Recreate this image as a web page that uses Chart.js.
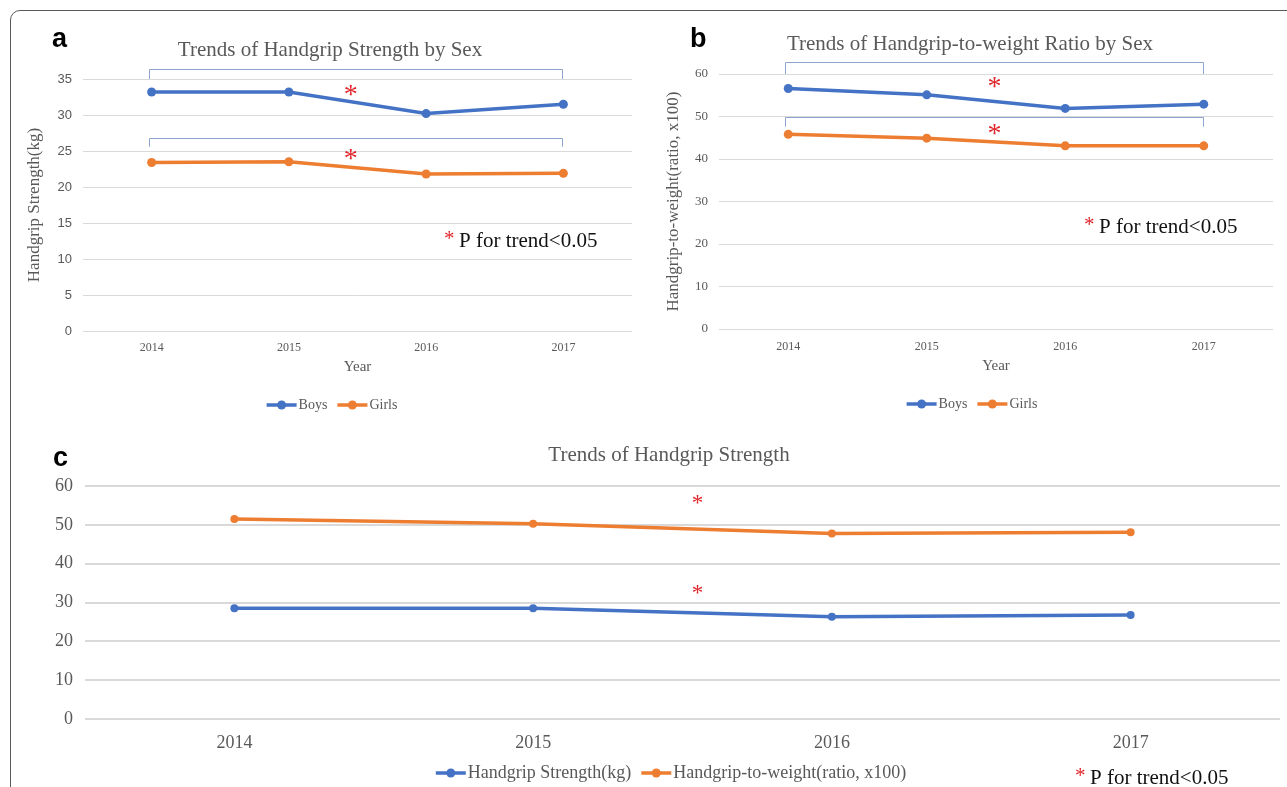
<!DOCTYPE html>
<html>
<head>
<meta charset="utf-8">
<script src="https://cdn.jsdelivr.net/npm/chart.js@4/dist/chart.umd.min.js"></script>
<style>
  html, body { margin: 0; padding: 0; background: #fff; overflow: hidden; }
  body { width: 1287px; height: 787px; position: relative; }
  #frame {
    position: absolute; left: 10px; top: 10px; width: 1320px; height: 820px;
    border: 1.5px solid #5a5a5a; border-radius: 10px; box-sizing: border-box;
  }
  .box { position: absolute; }
</style>
</head>
<body>
<div id="frame"></div>
<div class="box" style="left:0;top:0;width:640px;height:430px"><canvas id="chartA"></canvas></div>
<div class="box" style="left:640px;top:0;width:647px;height:430px"><canvas id="chartB"></canvas></div>
<div class="box" style="left:0;top:430px;width:1287px;height:357px"><canvas id="chartC"></canvas></div>
<script>
const years = ["2014", "2015", "2016", "2017"];

// a: handgrip strength by sex (kg)
const boysStrength = [33.2, 33.2, 30.2, 31.5];
const girlsStrength = [23.4, 23.5, 21.8, 21.9];
const ticksA = [0, 5, 10, 15, 20, 25, 30, 35];

// b: handgrip-to-weight ratio by sex (x100)
const boysRatio = [56.6, 55.1, 51.9, 52.9];
const girlsRatio = [45.8, 44.9, 43.1, 43.1];
const ticksB = [0, 10, 20, 30, 40, 50, 60];

// c: overall
const allStrength = [28.5, 28.5, 26.3, 26.8];
const allRatio = [51.5, 50.3, 47.8, 48.1];
const ticksC = [0, 10, 20, 30, 40, 50, 60];

const BLUE = "#4472C4";
const ORANGE = "#ED7D31";
const GRAY = "#595959";
const SERIF = "'Liberation Serif', 'DejaVu Serif', serif";
const SANS = "'Liberation Sans', Arial, sans-serif";

// titles, panel letters, brackets, stars and legend
const extras = {
  id: "extras",
  afterDraw(chart, args, o) {
    const ctx = chart.ctx;
    const x = chart.scales.x, y = chart.scales.y;
    ctx.save();

    ctx.fillStyle = "#000";
    ctx.font = "bold 27px " + SANS;
    ctx.textAlign = "left";
    ctx.textBaseline = "alphabetic";
    ctx.fillText(o.letter, o.letterX, o.letterY);

    ctx.fillStyle = GRAY;
    ctx.font = o.titleSize + "px " + SERIF;
    ctx.textAlign = "center";
    ctx.textBaseline = "middle";
    ctx.fillText(o.title, o.titleX, o.titleY);

    ctx.strokeStyle = "#8EA5CF";
    ctx.lineWidth = 1;
    (o.brackets || []).forEach(b => {
      const x0 = Math.round(x.getPixelForValue(0)) - 2.5;
      const x1 = Math.round(x.getPixelForValue(3)) - 0.5;
      const yt = Math.round(y.getPixelForValue(b[0])) + 0.5;
      const yb = y.getPixelForValue(b[1]);
      ctx.beginPath();
      ctx.moveTo(x0, yb); ctx.lineTo(x0, yt); ctx.lineTo(x1, yt); ctx.lineTo(x1, yb);
      ctx.stroke();
    });

    ctx.fillStyle = "#E0262B";
    ctx.font = o.starSize + "px " + SERIF;
    ctx.textAlign = "center";
    ctx.textBaseline = "alphabetic";
    o.stars.forEach(s => {
      ctx.fillText("*", x.getPixelForValue(s[0]), y.getPixelForValue(s[1]) + o.starSize * 0.5);
    });

    // P for trend note
    ctx.textAlign = "left";
    ctx.textBaseline = "middle";
    ctx.font = "21px " + SERIF;
    ctx.fillStyle = "#E0262B";
    ctx.fillText("*", o.noteX, o.noteY - 2);
    ctx.fillStyle = "#111";
    ctx.fillText("P for trend<0.05", o.noteX + 15, o.noteY);

    // legend
    ctx.font = o.legendSize + "px " + SERIF;
    const items = chart.data.datasets.map(d => ({ label: d.label, color: d.borderColor }));
    const widths = items.map(it => 32 + ctx.measureText(it.label).width);
    const total = widths.reduce((a, b) => a + b, 0) + 10 * (items.length - 1);
    let lx = o.legendX - total / 2;
    items.forEach((it, i) => {
      ctx.strokeStyle = it.color;
      ctx.fillStyle = it.color;
      ctx.lineWidth = 3.5;
      ctx.beginPath();
      ctx.moveTo(lx, o.legendY); ctx.lineTo(lx + 30, o.legendY);
      ctx.stroke();
      ctx.beginPath();
      ctx.arc(lx + 15, o.legendY, 4.5, 0, Math.PI * 2);
      ctx.fill();
      ctx.fillStyle = GRAY;
      ctx.fillText(it.label, lx + 32, o.legendY);
      lx += widths[i] + 10;
    });
    ctx.restore();
  }
};

function series(label, data, color, r) {
  return {
    label, data,
    borderColor: color, backgroundColor: color,
    borderWidth: 3.5, pointRadius: r, pointHoverRadius: r,
    pointBackgroundColor: color, pointBorderWidth: 0,
    tension: 0
  };
}

function makeChart(id, cfg) {
  return new Chart(document.getElementById(id), {
    type: "line",
    data: { labels: years, datasets: cfg.datasets },
    options: {
      responsive: true,
      maintainAspectRatio: false,
      animation: false,
      events: [],
      layout: { padding: cfg.padding },
      scales: {
        x: {
          offset: true,
          grid: { display: false },
          border: { display: false },
          ticks: { color: GRAY, font: { family: SERIF, size: cfg.xTickSize }, padding: cfg.xTickPad, maxRotation: 0 },
          title: cfg.xTitle
            ? { display: true, text: cfg.xTitle, color: GRAY, font: { family: SERIF, size: 15 }, padding: 0 }
            : { display: false },
          afterFit: s => { s.height = cfg.xHeight; }
        },
        y: {
          min: cfg.ticks[0],
          max: cfg.ticks[cfg.ticks.length - 1],
          grid: { color: "#D9D9D9", lineWidth: cfg.gridWidth, drawTicks: false },
          border: { display: false },
          ticks: {
            stepSize: cfg.ticks[1] - cfg.ticks[0],
            color: GRAY,
            font: { family: cfg.yTickFamily, size: cfg.yTickSize },
            padding: cfg.yTickPad
          },
          title: cfg.yTitle
            ? { display: true, text: cfg.yTitle, color: GRAY, font: { family: SERIF, size: 17 }, padding: 0 }
            : { display: false },
          afterFit: s => { s.width = cfg.yWidth; }
        }
      },
      plugins: {
        legend: { display: false },
        tooltip: { enabled: false },
        extras: cfg.extras
      }
    },
    plugins: [extras]
  });
}

makeChart("chartA", {
  datasets: [series("Boys", boysStrength, BLUE, 4.5), series("Girls", girlsStrength, ORANGE, 4.5)],
  ticks: ticksA,
  padding: { left: 24, right: 8, top: 79, bottom: 54 },
  yWidth: 59, xHeight: 45, xTickSize: 12, xTickPad: 2, yTickSize: 13, yTickPad: 11,
  yTickFamily: SANS, gridWidth: 1,
  xTitle: "Year", yTitle: "Handgrip Strength(kg)",
  extras: {
    letter: "a", letterX: 52, letterY: 47,
    title: "Trends of Handgrip Strength by Sex", titleX: 330, titleY: 50, titleSize: 21,
    brackets: [[36.4, 35], [26.8, 25.6]],
    stars: [[1.45, 33.6], [1.45, 24.7]], starSize: 28,
    noteX: 444, noteY: 241,
    legendX: 332, legendY: 405, legendSize: 14
  }
});

makeChart("chartB", {
  datasets: [series("Boys", boysRatio, BLUE, 4.5), series("Girls", girlsRatio, ORANGE, 4.5)],
  ticks: ticksB,
  padding: { left: 23, right: 14, top: 74, bottom: 55 },
  yWidth: 56, xHeight: 46, xTickSize: 12, xTickPad: 3, yTickSize: 13, yTickPad: 11,
  yTickFamily: SERIF, gridWidth: 1,
  xTitle: "Year", yTitle: "Handgrip-to-weight(ratio, x100)",
  extras: {
    letter: "b", letterX: 50, letterY: 47,
    title: "Trends of Handgrip-to-weight Ratio by Sex", titleX: 330, titleY: 44, titleSize: 21,
    brackets: [[62.8, 60], [50, 47.6]],
    stars: [[1.49, 58.4], [1.49, 47.4]], starSize: 28,
    noteX: 444, noteY: 227,
    legendX: 332, legendY: 404, legendSize: 14
  }
});

makeChart("chartC", {
  datasets: [series("Handgrip Strength(kg)", allStrength, BLUE, 4), series("Handgrip-to-weight(ratio, x100)", allRatio, ORANGE, 4)],
  ticks: ticksC,
  padding: { left: 0, right: 7, top: 56, bottom: 23 },
  yWidth: 85, xHeight: 45, xTickSize: 18, xTickPad: 5, yTickSize: 18, yTickPad: 12,
  yTickFamily: SERIF, gridWidth: 2,
  xTitle: null, yTitle: null,
  extras: {
    letter: "c", letterX: 53, letterY: 466 - 430,
    title: "Trends of Handgrip Strength", titleX: 669, titleY: 25, titleSize: 21,
    brackets: [],
    stars: [[1.55, 56.9], [1.55, 33.6]], starSize: 23,
    noteX: 1075, noteY: 348,
    legendX: 671, legendY: 343, legendSize: 18
  }
});
</script>
</body>
</html>
